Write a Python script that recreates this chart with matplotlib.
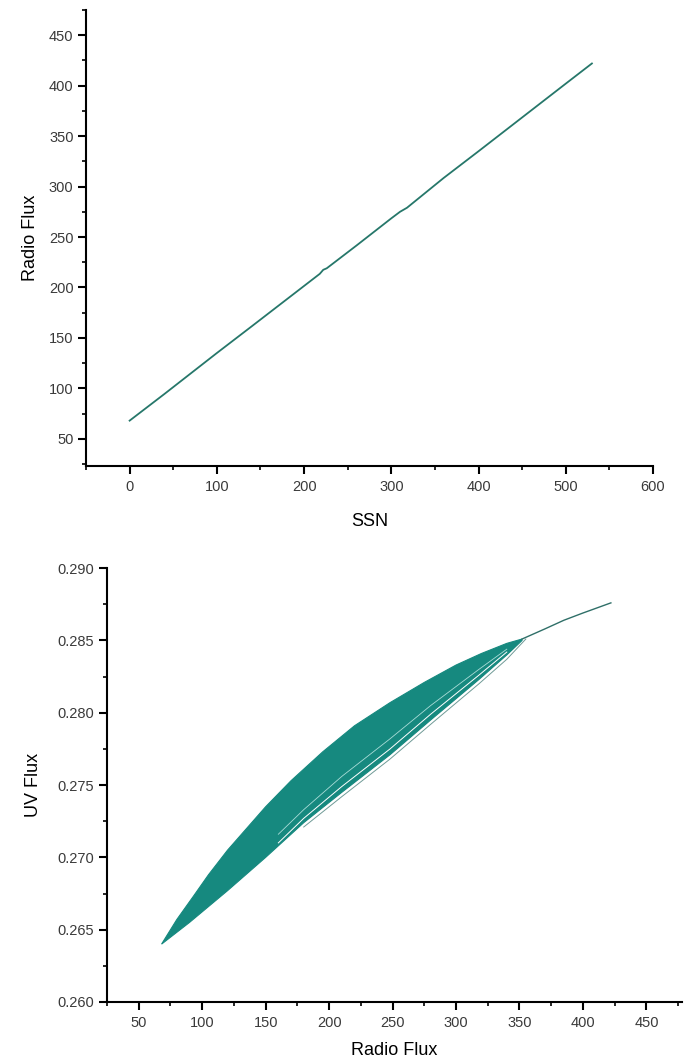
import matplotlib.pyplot as plt
from matplotlib.ticker import MultipleLocator

plt.rcParams['font.family'] = ['Liberation Sans', 'DejaVu Sans']

# top panel: SSN vs radio flux
ssn = [0, 40, 100, 140, 200, 218, 222, 226, 260, 300, 310, 318, 360, 400, 450, 500, 530]
radio = [68, 94.5, 135, 161.5, 201.5, 213.5, 217.5, 219, 241.5, 268.5, 275, 279, 308.5, 335, 368.5, 402, 422]

# bottom panel: UV flux envelope vs radio flux
rf_up = [68, 80, 93, 105, 120, 135, 150, 170, 195, 220, 248, 275, 300, 320, 340, 352]
uv_upper = [0.2640, 0.2657, 0.2673, 0.2688, 0.2705, 0.2720, 0.2735, 0.2753, 0.2773,
            0.2791, 0.2807, 0.2821, 0.2833, 0.2841, 0.2848, 0.2851]
rf_low = [68, 90, 120, 150, 180, 210, 248, 280, 318, 340, 352]
uv_lower = [0.2640, 0.2655, 0.2677, 0.2700, 0.2724, 0.2745, 0.2771, 0.2795, 0.2823, 0.2840, 0.2850]
# thin strands along the lower edge
rf_outer = [180, 210, 248, 280, 318, 340, 355]
uv_outer = [0.2721, 0.2742, 0.2768, 0.2792, 0.2820, 0.2837, 0.2851]
rf_gap = [160, 180, 210, 248, 280, 318, 340]
uv_gap1 = [0.2710, 0.2727, 0.2749, 0.2775, 0.2799, 0.2826, 0.2842]
uv_gap2 = [0.2716, 0.2733, 0.2756, 0.2782, 0.2805, 0.2830, 0.2844]
# tail above 352
rf_tail = [352, 370, 385, 400, 422]
uv_tail = [0.2851, 0.2858, 0.2864, 0.2869, 0.2876]

teal = '#16897f'
label_col = '#3a3a3a'

fig = plt.figure(figsize=(6.92, 10.64), dpi=100)


def style(ax):
    ax.spines['top'].set_visible(False)
    ax.spines['right'].set_visible(False)
    for s in ('left', 'bottom'):
        ax.spines[s].set_linewidth(1.5)
    ax.tick_params(which='major', direction='out', length=6, width=1.5,
                   labelsize=10.5, labelcolor=label_col)
    ax.tick_params(which='minor', direction='out', length=3.2, width=1.2)
    ax.tick_params(axis='x', which='major', pad=4)
    ax.tick_params(axis='y', which='major', pad=3)


ax1 = fig.add_axes([0.1243, 0.562, 0.8193, 0.4286])
ax1.plot(ssn, radio, color='#26776a', lw=1.3)
ax1.set_xlim(-50, 600)
ax1.set_ylim(23, 475)
ax1.xaxis.set_major_locator(MultipleLocator(100))
ax1.xaxis.set_minor_locator(MultipleLocator(50))
ax1.yaxis.set_minor_locator(MultipleLocator(25))
ax1.set_yticks(range(50, 451, 50))
style(ax1)
ax1.set_xlabel('SSN', fontsize=13, labelpad=14)
ax1.set_ylabel('Radio Flux', fontsize=13, labelpad=7)

ax2 = fig.add_axes([0.1546, 0.0583, 0.8309, 0.4077])
ax2.fill(rf_up + rf_low[::-1], uv_upper + uv_lower[::-1], color=teal, lw=0.8, edgecolor=teal)
ax2.plot(rf_outer, uv_outer, color='#6f9a96', lw=0.7)
ax2.plot(rf_gap, uv_gap1, color='white', lw=0.7)
ax2.plot(rf_gap, uv_gap2, color='#a9dcd7', lw=0.6)
ax2.plot(rf_tail, uv_tail, color='#2f6f68', lw=1.0)
ax2.set_xlim(25, 478)
ax2.set_ylim(0.260, 0.290)
ax2.xaxis.set_minor_locator(MultipleLocator(25))
ax2.yaxis.set_major_locator(MultipleLocator(0.005))
ax2.yaxis.set_minor_locator(MultipleLocator(0.0025))
ax2.set_xticks(range(50, 451, 50))
ax2.yaxis.set_major_formatter(plt.FormatStrFormatter('%.3f'))
style(ax2)
ax2.set_xlabel('Radio Flux', fontsize=13, labelpad=9)
ax2.set_ylabel('UV Flux', fontsize=13, labelpad=11)

fig.savefig('out.png', dpi=100)
